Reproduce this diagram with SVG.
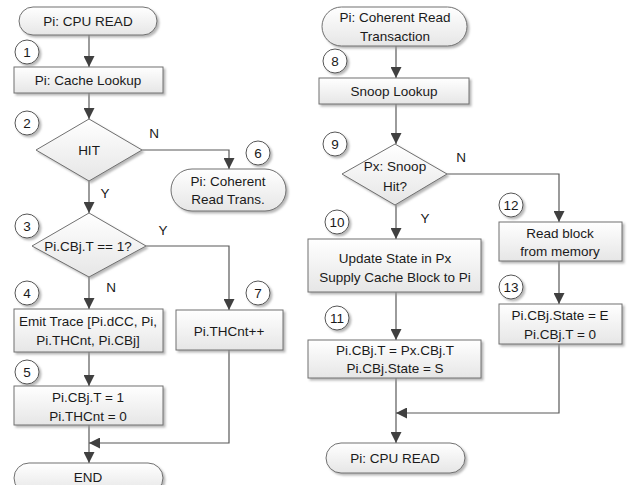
<svg xmlns="http://www.w3.org/2000/svg" width="633" height="485" viewBox="0 0 633 485">
<style>
.box{fill:url(#g);stroke:#707070;stroke-width:1;filter:url(#sh)}
.cir{fill:#fff;stroke:#555;stroke-width:1;filter:url(#sh)}
.t{font-family:"Liberation Sans",Arial,sans-serif;font-size:13.5px;fill:#1a1a1a;text-anchor:middle;dominant-baseline:central}
.c{fill:none;stroke:#595959;stroke-width:1.2}
</style>
<defs>
<linearGradient id="g" x1="0" y1="0" x2="0" y2="1"><stop offset="0" stop-color="#ffffff"/><stop offset="1" stop-color="#e6e6e6"/></linearGradient>
<filter id="sh" x="-10%" y="-10%" width="130%" height="140%"><feDropShadow dx="2" dy="2" stdDeviation="0.8" flood-color="#999" flood-opacity="0.7"/></filter>
<marker id="a" viewBox="0 0 10 10" refX="10" refY="5" markerWidth="11" markerHeight="11" markerUnits="userSpaceOnUse" orient="auto"><path d="M0,0 L10,5 L0,10 Z" fill="#404040"/></marker>
</defs>
<g id="connectors">
<path class="c" d="M89,35 V67" marker-end="url(#a)"/>
<path class="c" d="M89,93 V119" marker-end="url(#a)"/>
<path class="c" d="M142,150 H229 V169" marker-end="url(#a)"/>
<path class="c" d="M89,181 V213" marker-end="url(#a)"/>
<path class="c" d="M146,246 H229 V310" marker-end="url(#a)"/>
<path class="c" d="M89,277 V309" marker-end="url(#a)"/>
<path class="c" d="M89,352 V386" marker-end="url(#a)"/>
<path class="c" d="M89,425 V463" marker-end="url(#a)"/>
<path class="c" d="M229,350 V443 H89" marker-end="url(#a)"/>
<path class="c" d="M396,46 V78" marker-end="url(#a)"/>
<path class="c" d="M396,104 V144" marker-end="url(#a)"/>
<path class="c" d="M447,174 H559 V222" marker-end="url(#a)"/>
<path class="c" d="M396,205 V239" marker-end="url(#a)"/>
<path class="c" d="M559,261 V304" marker-end="url(#a)"/>
<path class="c" d="M396,292 V340" marker-end="url(#a)"/>
<path class="c" d="M396,378 V443" marker-end="url(#a)"/>
<path class="c" d="M559,344 V413 H396" marker-end="url(#a)"/>
<text class="t" x="154" y="133">N</text>
<text class="t" x="105" y="193">Y</text>
<text class="t" x="163" y="230">Y</text>
<text class="t" x="111" y="287">N</text>
<text class="t" x="461" y="157">N</text>
<text class="t" x="425" y="218">Y</text>
</g>
<g id="n-start"><rect class="box" x="19" y="7" width="138" height="28" rx="14"/><text class="t" x="88" y="21">Pi: CPU READ</text></g>
<g id="c1"><circle class="cir" cx="27" cy="52" r="12"/><text class="t" x="27" y="52">1</text></g>
<g id="n-lookup"><rect class="box" x="14" y="67" width="149" height="26"/><text class="t" x="88" y="80">Pi: Cache Lookup</text></g>
<g id="c2"><circle class="cir" cx="27" cy="123" r="12"/><text class="t" x="27" y="123">2</text></g>
<g id="n-hit"><path class="box" d="M89,119 L142,150 L89,181 L36,150 Z"/><text class="t" x="89" y="150">HIT</text></g>
<g id="c6"><circle class="cir" cx="258" cy="153" r="12"/><text class="t" x="258" y="153">6</text></g>
<g id="n-coh"><rect class="box" x="171" y="169" width="115" height="42" rx="21"/><text class="t" x="228" y="181">Pi: Coherent</text><text class="t" x="228" y="199">Read Trans.</text></g>
<g id="c3"><circle class="cir" cx="27" cy="226" r="12"/><text class="t" x="27" y="226">3</text></g>
<g id="n-cbj"><path class="box" d="M89,213 L146,246 L89,277 L32,246 Z"/><text class="t" x="88" y="246">Pi.CBj.T == 1?</text></g>
<g id="c4"><circle class="cir" cx="27" cy="293" r="12"/><text class="t" x="27" y="293">4</text></g>
<g id="c7"><circle class="cir" cx="258" cy="293" r="12"/><text class="t" x="258" y="293">7</text></g>
<g id="n-emit"><rect class="box" x="14" y="309" width="149" height="43"/><text class="t" x="88" y="321">Emit Trace [Pi.dCC, Pi,</text><text class="t" x="88" y="340">Pi.THCnt, Pi.CBj]</text></g>
<g id="n-inc"><rect class="box" x="176" y="310" width="107" height="40"/><text class="t" x="229" y="331">Pi.THCnt++</text></g>
<g id="c5"><circle class="cir" cx="27" cy="372" r="12"/><text class="t" x="27" y="372">5</text></g>
<g id="n-set"><rect class="box" x="14" y="386" width="149" height="39"/><text class="t" x="88" y="397">Pi.CBj.T = 1</text><text class="t" x="88" y="416">Pi.THCnt = 0</text></g>
<g id="n-end"><rect class="box" x="14" y="463" width="149" height="30" rx="15"/><text class="t" x="88" y="477">END</text></g>
<g id="n-start2"><rect class="box" x="322" y="7" width="145" height="39" rx="19.5"/><text class="t" x="395" y="17">Pi: Coherent Read</text><text class="t" x="395" y="36">Transaction</text></g>
<g id="c8"><circle class="cir" cx="335" cy="61" r="12"/><text class="t" x="335" y="61">8</text></g>
<g id="n-snoop"><rect class="box" x="319" y="78" width="150" height="26"/><text class="t" x="394" y="91">Snoop Lookup</text></g>
<g id="c9"><circle class="cir" cx="335" cy="144" r="12"/><text class="t" x="335" y="144">9</text></g>
<g id="n-shit"><path class="box" d="M395,144 L447,174 L395,205 L342,174 Z"/><text class="t" x="395" y="166">Px: Snoop</text><text class="t" x="395" y="186">Hit?</text></g>
<g id="c12"><circle class="cir" cx="511" cy="205" r="12"/><text class="t" x="511" y="205">12</text></g>
<g id="c10"><circle class="cir" cx="337" cy="222" r="12"/><text class="t" x="337" y="222">10</text></g>
<g id="n-upd"><rect class="box" x="308" y="239" width="173" height="53"/><text class="t" x="395" y="258">Update State in Px</text><text class="t" x="395" y="277">Supply Cache Block to Pi</text></g>
<g id="n-read"><rect class="box" x="499" y="222" width="123" height="39"/><text class="t" x="560" y="233">Read block</text><text class="t" x="560" y="251">from memory</text></g>
<g id="c13"><circle class="cir" cx="511" cy="287" r="12"/><text class="t" x="511" y="287">13</text></g>
<g id="n-state"><rect class="box" x="499" y="304" width="123" height="40"/><text class="t" x="560" y="315">Pi.CBj.State = E</text><text class="t" x="560" y="334">Pi.CBj.T = 0</text></g>
<g id="c11"><circle class="cir" cx="337" cy="318" r="12"/><text class="t" x="337" y="318">11</text></g>
<g id="n-copy"><rect class="box" x="308" y="340" width="173" height="38"/><text class="t" x="395" y="350">Pi.CBj.T = Px.CBj.T</text><text class="t" x="395" y="368">Pi.CBj.State = S</text></g>
<g id="n-cpu2"><rect class="box" x="326" y="443" width="139" height="30" rx="15"/><text class="t" x="395" y="458">Pi: CPU READ</text></g>
</svg>
